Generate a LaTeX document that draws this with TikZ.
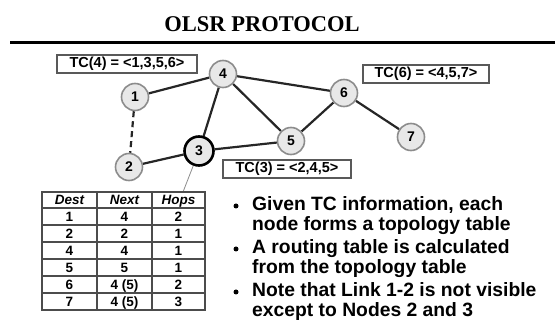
\documentclass[tikz,border=0pt]{standalone}
\usepackage{fontspec}
\setmainfont{Liberation Serif}
\setsansfont{Liberation Sans}
\usetikzlibrary{backgrounds}
\begin{document}
\begin{tikzpicture}[x=1pt,y=-1pt,
  vtx/.style={circle,draw=black!45,line width=1.6pt,fill=black!9,minimum size=27pt,inner sep=0pt,font=\sffamily\bfseries\fontsize{14}{14}\selectfont},
  hub/.style={vtx,draw=black,line width=2.6pt,minimum size=29pt},
  link/.style={line width=2.2pt,black!85},
  tcbox/.style={draw=black!65,line width=1.3pt,fill=white,inner sep=0pt,minimum height=18pt,font=\sffamily\bfseries\fontsize{14.5}{14.5}\selectfont},
  cell/.style={inner sep=0pt,anchor=base,font=\sffamily\bfseries\fontsize{13.5}{13.5}\selectfont},
  hcell/.style={cell,font=\sffamily\bfseries\itshape\fontsize{13.5}{13.5}\selectfont},
  grid/.style={black!70,line width=1.2pt},
  btext/.style={anchor=north west,inner sep=0pt,align=left,font=\sffamily\bfseries\fontsize{19.3}{20.5}\selectfont},
  dot/.style={circle,fill=black,inner sep=0pt,minimum size=5pt}
]
\useasboundingbox (0,0) rectangle (555,323);
% title
\node[font=\rmfamily\bfseries\fontsize{22.5}{24}\selectfont,inner sep=0pt] (title) at (262,24) {OLSR PROTOCOL};
\coordinate (ruleL) at (10,43);
\coordinate (ruleR) at (555,43);
\draw[line width=3pt] (ruleL) -- (ruleR);
% vertices
\node[vtx] (n1) at (135,97) {1};
\node[vtx] (n2) at (129,167) {2};
\node[vtx] (n4) at (223,74) {4};
\node[vtx] (n5) at (291,141) {5};
\node[vtx] (n6) at (344,93) {6};
\node[vtx] (n7) at (411,137) {7};
\node[hub] (n3) at (199,151) {3};
% links
\begin{scope}[on background layer]
\draw[link] (n1) -- (n4);
\draw[link] (n4) -- (n6);
\draw[link] (n4) -- (n3);
\draw[link] (n4) -- (n5);
\draw[link] (n3) -- (n5);
\draw[link] (n2) -- (n3);
\draw[link] (n5) -- (n6);
\draw[link] (n6) -- (n7);
\draw[link,dash pattern=on 6pt off 4pt] (n1) -- (n2);
\end{scope}
% TC boxes
\node[tcbox,minimum width=140pt] (tc4) at (127,64) {TC(4) = <1,3,5,6>};
\node[tcbox,minimum width=126pt] (tc6) at (426,74) {TC(6) = <4,5,7>};
\node[tcbox,minimum width=128pt] (tc3) at (287,169) {TC(3) = <2,4,5>};
% table
\coordinate (tl) at (42,192);
\coordinate (br) at (205,310);
\coordinate (ptr) at (183,192);
\draw[black!45,line width=0.8pt] (n3) -- (ptr);
\draw[grid,fill=white] (tl) rectangle (br);
\foreach \yy in {208,225,242,259,276,293}{\draw[grid] (42,\yy) -- (205,\yy);}
\foreach \xx in {97,152}{\draw[grid] (\xx,192) -- (\xx,310);}
\node[hcell] (h1) at (69.5,205) {Dest};
\node[hcell] (h2) at (124.5,205) {Next};
\node[hcell] (h3) at (178.5,205) {Hops};
\foreach \r/\d/\n/\h [count=\i] in {1/1/4/2,2/2/2/1,3/4/4/1,4/5/5/1,5/6/{4 (5)}/2,6/7/{4 (5)}/3}{
  \pgfmathsetmacro{\yc}{208+17*\r-3.5}
  \node[cell] (d\i) at (69.5,\yc) {\d};
  \node[cell] (x\i) at (124.5,\yc) {\n};
  \node[cell] (p\i) at (178.5,\yc) {\h};
}
% bullets
\node[dot] (b1) at (236,206) {};
\node[btext] (t1) at (252,196) {Given TC information, each\\node forms a topology table};
\node[dot] (b2) at (236,249) {};
\node[btext] (t2) at (252,239) {A routing table is calculated\\from the topology table};
\node[dot] (b3) at (236,292) {};
\node[btext] (t3) at (252,282) {Note that Link 1-2 is not visible\\except to Nodes 2 and 3};
\end{tikzpicture}
\end{document}
